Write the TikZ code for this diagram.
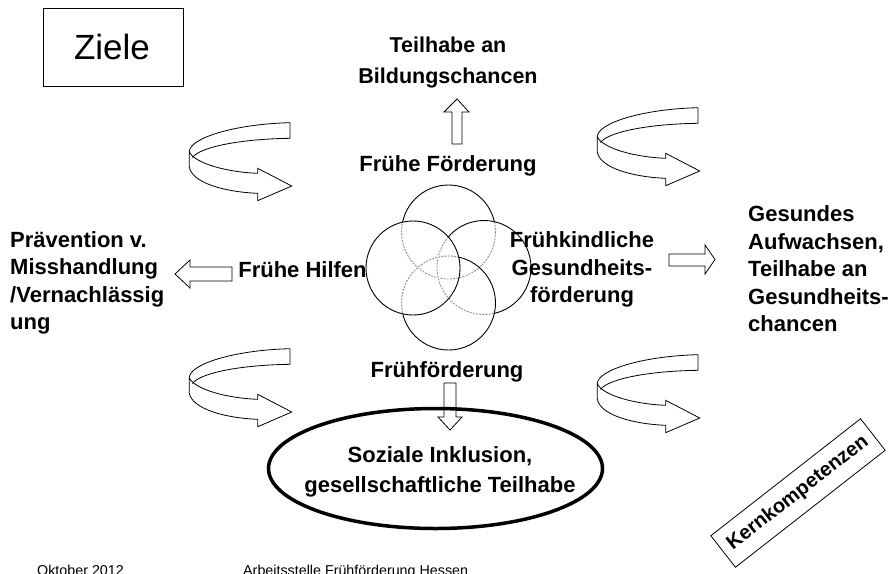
\documentclass[tikz,border=0pt]{standalone}
\usepackage{fontspec}
\setmainfont{Liberation Sans}
\begin{document}
\begin{tikzpicture}[x=1pt,y=-1pt,
  lbl/.style={font=\bfseries\fontsize{22}{27.5}\selectfont, inner sep=0pt, align=center},
  circ/.style={draw=black, line width=0.9pt},
  erase/.style={draw=white, line width=1.8pt},
  hid/.style={draw=black!45, line width=0.8pt, dash pattern=on 2pt off 1.2pt},
  blockarrow/.style={draw=black, line width=0.8pt, line join=miter, fill=white},
  ribbonline/.style={draw=black, line width=0.8pt, line join=miter},
  ribbon/.pic={
    \draw[ribbonline] (100,12.7) .. controls (45,14) and (-1,28) .. (-0.7,42)
      -- (-0.7,57) .. controls (2,73) and (35,82) .. (67.7,83.3)
      -- (67.7,90.7) -- (101.7,76) -- (67.7,58.3) -- (67.7,63.3)
      .. controls (35,62) and (5,53) .. (-0.7,42);
    \draw[ribbonline] (100,12.7) -- (100,28.3) .. controls (50,29) and (10,37) .. (2.5,47.5);
  }]
\useasboundingbox (0,0) rectangle (896,573);

% Ziele box
\node[draw, line width=0.8pt, minimum width=140pt, minimum height=78pt, inner sep=0pt] (zbox) at (113,47) {};
\node[font=\fontsize{35}{35}\selectfont, inner sep=0pt] (ziele) at (112,47) {Ziele};

% curved ribbon arrows
\pic (rTL) at (190,110) {ribbon};
\pic (rTR) at (598,95) {ribbon};
\pic (rBL) at (190,336) {ribbon};
\pic (rBR) at (598,342) {ribbon};

% block arrows
\draw[blockarrow] (452,144) -- (452,112) -- (444,112) -- (457,99) -- (469,112) -- (462,112) -- (462,144) -- cycle;
\draw[blockarrow] (232,267) -- (190,267) -- (190,260) -- (175,274) -- (190,288) -- (190,281) -- (232,281) -- cycle;
\draw[blockarrow] (669,254) -- (705,254) -- (705,245) -- (715,259.5) -- (705,274) -- (705,266) -- (669,266) -- cycle;
\draw[blockarrow, fill=none] (444,383) -- (444,417) -- (438,417) -- (450,430) -- (462,417) -- (456,417) -- (456,383) -- cycle;

% four circles
\coordinate (cT) at (448.5,232);
\coordinate (cR) at (484,267.5);
\coordinate (cB) at (448.5,303);
\coordinate (cL) at (413,268);
\def\rr{47}
\draw[circ] (cT) circle[radius=\rr];
\foreach \c in {cR,cB,cL}{
  \begin{scope}\clip (\c) circle[radius=\rr];
    \draw[erase] (cT) circle[radius=\rr];
    \draw[hid] (cT) circle[radius=\rr];
  \end{scope}}
\draw[circ] (cR) circle[radius=\rr];
\foreach \c in {cB,cL}{
  \begin{scope}\clip (\c) circle[radius=\rr];
    \draw[erase] (cR) circle[radius=\rr];
    \draw[hid] (cR) circle[radius=\rr];
  \end{scope}}
\draw[circ] (cB) circle[radius=\rr];
\begin{scope}\clip (cL) circle[radius=\rr];
  \draw[erase] (cB) circle[radius=\rr];
  \draw[hid] (cB) circle[radius=\rr];
\end{scope}
\draw[circ] (cL) circle[radius=\rr];

% labels
\node[lbl, font=\bfseries\fontsize{21.5}{31}\selectfont] (bild) at (448,62.5) {Teilhabe an\\Bildungschancen};
\node[lbl] (ff) at (448,166) {Frühe Förderung};
\node[lbl] (fh) at (302.5,270) {Frühe Hilfen};
\node[lbl] (fg) at (582,269.5) {Frühkindliche\\Gesundheits-\\förderung};
\node[lbl] (frueh) at (447,372) {Frühförderung};
\node[lbl, align=left, anchor=west] (prae) at (10,283) {Prävention v.\\Misshandlung\\/Vernachlässig\\ung};
\node[lbl, align=left, anchor=west] (ges) at (748,269) {Gesundes\\Aufwachsen,\\Teilhabe an\\Gesundheits-\\chancen};

% ellipse
\coordinate (ec) at (435.5,468.5);
\draw[line width=3.5pt] (ec) ellipse[x radius=167, y radius=60];
\node[lbl, font=\bfseries\fontsize{22}{30}\selectfont] (incl) at (440,472) {Soziale Inklusion,\\gesellschaftliche Teilhabe};

% Kernkompetenzen
\node[draw, line width=0.8pt, rotate=38, minimum width=190pt, minimum height=40pt, inner sep=0pt,
  font=\bfseries\fontsize{20}{20}\selectfont] (kk) at (798,493) {Kernkompetenzen};

% footer
\node[font=\fontsize{14.3}{14.3}\selectfont, anchor=base west, inner sep=0pt] (date) at (37,575) {Oktober 2012};
\node[font=\fontsize{14.3}{14.3}\selectfont, anchor=base west, inner sep=0pt] (org) at (243,575) {Arbeitsstelle Frühförderung Hessen};
\end{tikzpicture}
\end{document}
